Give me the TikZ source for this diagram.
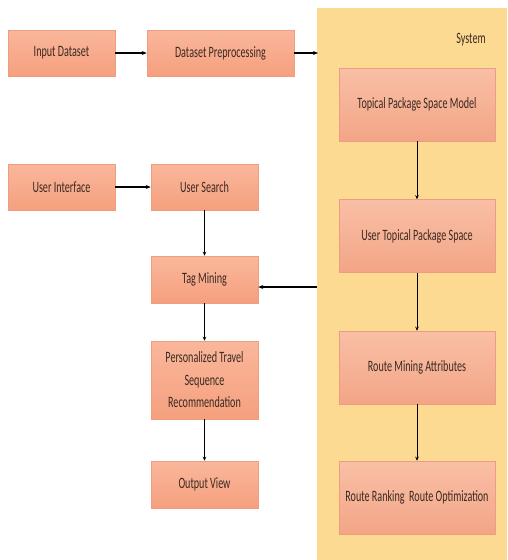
\documentclass[tikz,border=0pt]{standalone}
\usepackage{fontspec}
\setmainfont{Carlito}[FakeStretch=0.64]
\usetikzlibrary{arrows.meta}
\begin{document}
\begin{tikzpicture}[x=1pt,y=-1pt,
  box/.style={draw=boxedge,line width=0.5pt,top color=boxtop,bottom color=boxbot,
    minimum width=107pt,minimum height=46pt,inner sep=2pt,align=center,
    font=\fontsize{15.8}{22.5}\selectfont,text=textc},
  sysbox/.style={box,minimum width=156pt,minimum height=73pt,top color=sboxtop,bottom color=sboxbot},
  conn/.style={line width=1.2pt,-{Stealth[length=5pt,width=4pt]}},
  sconn/.style={line width=0.8pt,-{Stealth[length=4pt,width=3.5pt]}}]
\definecolor{boxtop}{HTML}{FAB79B}
\definecolor{boxbot}{HTML}{F5A07E}
\definecolor{sboxtop}{HTML}{F9BFA6}
\definecolor{sboxbot}{HTML}{F3A586}
\definecolor{boxedge}{HTML}{EE9E80}
\definecolor{sysfill}{HTML}{FDDA92}
\definecolor{textc}{HTML}{3A2A22}
\useasboundingbox (0,0) rectangle (507,560);
\fill[white] (0,0) rectangle (507,560);
\node[draw=none,fill=sysfill,minimum width=190pt,minimum height=552pt,inner sep=0pt] (sys) at (412,284) {};
\node[font=\fontsize{15.8}{18}\selectfont,text=textc] (syslbl) at (471,40) {System};
\node[box] (input) at (61.5,53) {Input Dataset};
\node[box,minimum width=147pt] (prep) at (220.5,53) {Dataset Preprocessing};
\node[sysbox] (tpsm) at (417,104.5) {Topical Package Space Model};
\node[sysbox] (utps) at (417,236) {User Topical Package Space};
\node[sysbox] (rma) at (417,367.5) {Route Mining Attributes};
\node[sysbox] (rr) at (417,497.5) {Route Ranking\ \ Route Optimization};
\node[box] (ui) at (61.5,187) {User Interface};
\node[box] (us) at (204.5,187) {User Search};
\node[box,minimum height=47pt] (tag) at (204.5,279.5) {Tag Mining};
\node[box,minimum height=78pt] (ptsr) at (204.5,380) {Personalized Travel\\Sequence\\Recommendation};
\node[box,minimum height=47pt] (out) at (204.5,484.5) {Output View};
\coordinate (sysin) at (318,53);
\coordinate (sysout) at (317,287);
\draw[conn] (input) -- (prep);
\draw[conn] (prep.east) -- (sysin);
\draw[conn] (ui) -- (us);
\draw[sconn] (us) -- (tag);
\draw[sconn] (tag) -- (ptsr);
\draw[sconn] (ptsr) -- (out);
\draw[conn] (sysout) -- (sysout -| tag.east);
\draw[sconn] (tpsm) -- (utps);
\draw[sconn] (utps) -- (rma);
\draw[sconn] (rma) -- (rr);
\end{tikzpicture}
\end{document}
